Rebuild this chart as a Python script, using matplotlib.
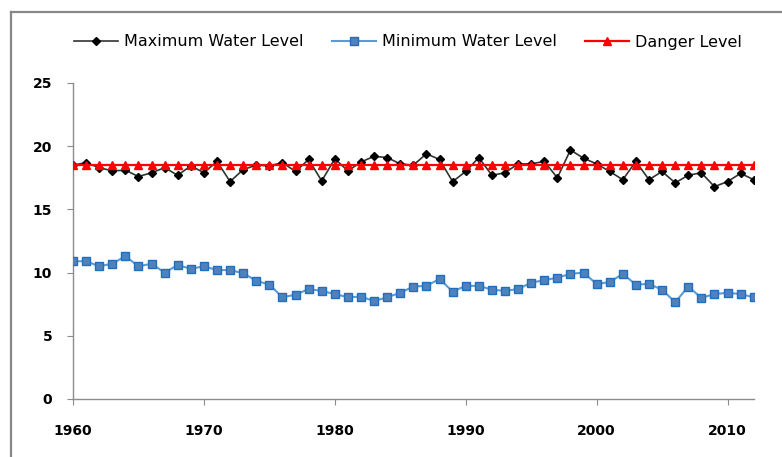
import matplotlib
matplotlib.use("Agg")
import matplotlib.pyplot as plt
from matplotlib.lines import Line2D

years = list(range(1960, 2013))
max_level = [18.5, 18.7, 18.3, 18.05, 18.1, 17.6, 17.9, 18.3, 17.7, 18.45,
             17.9, 18.8, 17.2, 18.15, 18.5, 18.45, 18.7, 18.0, 18.95, 17.25,
             19.0, 18.05, 18.75, 19.2, 19.1, 18.6, 18.5, 19.4, 18.95, 17.2,
             18.0, 19.1, 17.7, 17.9, 18.6, 18.6, 18.8, 17.5, 19.7, 19.05,
             18.6, 18.0, 17.35, 18.8, 17.35, 18.0, 17.1, 17.7, 17.9, 16.8,
             17.2, 17.85, 17.35]
min_level = [10.9, 10.9, 10.5, 10.7, 11.3, 10.5, 10.7, 10.0, 10.6, 10.3,
             10.5, 10.2, 10.2, 9.95, 9.35, 9.05, 8.05, 8.25, 8.7, 8.55,
             8.3, 8.05, 8.1, 7.75, 8.05, 8.4, 8.9, 8.95, 9.5, 8.5,
             8.95, 8.95, 8.65, 8.55, 8.7, 9.2, 9.4, 9.6, 9.9, 10.0,
             9.1, 9.25, 9.9, 9.05, 9.1, 8.65, 7.65, 8.9, 8.0, 8.3,
             8.4, 8.3, 8.05]
danger_level = [18.5] * len(years)
x_ticks = [1960, 1970, 1980, 1990, 2000, 2010]
y_ticks = [0, 5, 10, 15, 20, 25]

fig = plt.figure(figsize=(7.82, 4.57), dpi=100)
W, H = 782, 457
ax = fig.add_axes([73 / W, 1 - 399 / H, (753.7 - 73) / W, (399 - 83) / H])

ax.plot(years, max_level, color="#333333", lw=1.2, marker="D", ms=4,
        mfc="black", mec="black", label="Maximum Water Level", zorder=3)
ax.plot(years, min_level, color="#5B9BD5", lw=1.5, marker="s", ms=6,
        mfc="#4F81BD", mec="#1F6EBF", mew=1.0, label="Minimum Water Level", zorder=3)
ax.plot(years, danger_level, color="#FF0000", lw=1.6, marker="^", ms=5.5,
        mfc="#FF0000", mec="#FF0000", label="Danger Level", zorder=4)

ax.set_xlim(1960, 2012)
ax.set_ylim(0, 25)
ax.set_xticks(x_ticks)
ax.set_yticks(y_ticks)
ax.set_xticklabels([str(t) for t in x_ticks], fontsize=10, fontweight="bold",
                   family="DejaVu Sans")
ax.set_yticklabels([str(t) for t in y_ticks], fontsize=10, fontweight="bold",
                   family="DejaVu Sans")
for s in ["top", "right"]:
    ax.spines[s].set_visible(False)
for s in ["left", "bottom"]:
    ax.spines[s].set_color("#8C8C8C")
    ax.spines[s].set_linewidth(1.0)
ax.tick_params(axis="x", direction="out", length=4, color="#8C8C8C", pad=14)
ax.tick_params(axis="y", direction="out", length=4, color="#8C8C8C", pad=11)

leg = fig.legend(loc="center", bbox_to_anchor=(408 / W, 1 - 42 / H), ncol=3,
                 frameon=False, fontsize=11.5, handlelength=2.75,
                 handletextpad=0.35, columnspacing=1.8)

# chart-area frame (top and left edges visible)
fig.add_artist(Line2D([11 / W, 11 / W], [0, 1 - 12 / H], transform=fig.transFigure,
                      color="#888888", lw=1.6))
fig.add_artist(Line2D([11 / W, 1], [1 - 12 / H, 1 - 12 / H], transform=fig.transFigure,
                      color="#888888", lw=1.6))

fig.savefig("out.png", dpi=100)
